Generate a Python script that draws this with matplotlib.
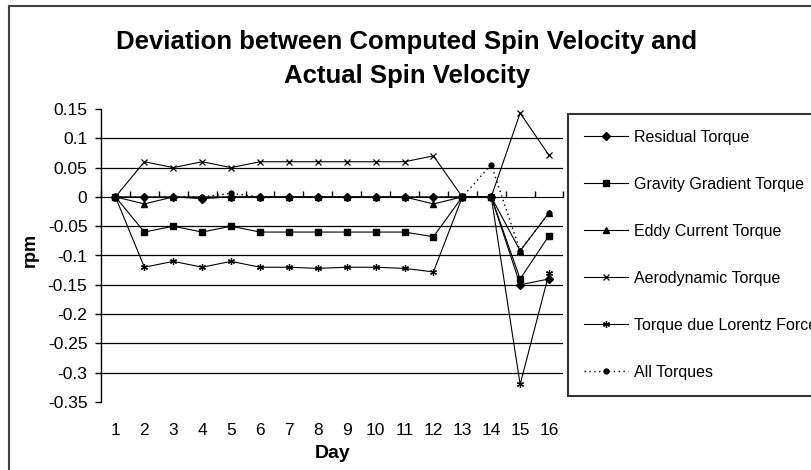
"""Deviation between computed and actual spin velocity, Excel-style line chart."""

import matplotlib

matplotlib.use("Agg")
import matplotlib.pyplot as plt
import numpy as np
from matplotlib.patches import Rectangle

days = list(range(1, 17))

residual = [0, 0, 0, -0.003, 0.0, 0, 0, 0, 0, 0, 0, 0, 0, 0, -0.15, -0.14]
gravity = [0, -0.06, -0.05, -0.06, -0.05, -0.06, -0.06, -0.06, -0.06, -0.06, -0.06,
           -0.068, 0, 0, -0.14, -0.066]
eddy = [0, -0.012, 0, 0, 0, 0, 0, 0, 0, 0, 0, -0.012, 0, 0, -0.092, -0.027]
aero = [0, 0.06, 0.05, 0.06, 0.05, 0.06, 0.06, 0.06, 0.06, 0.06, 0.06, 0.07,
        0, 0, 0.143, 0.071]
lorentz = [0, -0.12, -0.11, -0.12, -0.11, -0.12, -0.12, -0.122, -0.12, -0.12, -0.122,
           -0.128, 0, 0, -0.32, -0.13]
all_torques = [0, 0, 0, 0, 0.006, 0, 0, 0, 0, 0, 0, 0, 0, 0.055, -0.092, -0.027]

y_ticks = [0.15, 0.1, 0.05, 0, -0.05, -0.1, -0.15, -0.2, -0.25, -0.3, -0.35]
y_labels = ["0.15", "0.1", "0.05", "0", "-0.05", "-0.1", "-0.15", "-0.2", "-0.25",
            "-0.3", "-0.35"]

plt.rcParams["font.family"] = ["Liberation Sans", "DejaVu Sans"]

W, H = 812, 470
fig = plt.figure(figsize=(W / 100, H / 100), dpi=100)
ax = fig.add_axes([101 / W, 1 - 402 / H, 462.5 / W, 293 / H])

ymin, ymax = -0.35, 0.15
ax.set_xlim(0.5, 16.5)
ax.set_ylim(ymin, ymax)

# gridlines (none at the top and bottom of the range)
for level in y_ticks[1:-1]:
    if level != 0:
        ax.axhline(level, color="black", lw=0.9, zorder=1)

style = dict(color="black", lw=0.8, zorder=3)
ax.plot(days, residual, marker="D", ms=4, label="Residual Torque", **style)
ax.plot(days, gravity, marker="s", ms=4, label="Gravity Gradient Torque", **style)
ax.plot(days, eddy, marker="^", ms=5, label="Eddy Current Torque", **style)
ax.plot(days, aero, marker="x", ms=4, mew=0.9, label="Aerodynamic Torque", **style)
ax.plot(days, lorentz, marker=(6, 2, 0), ms=5, mew=0.9,
        label="Torque due Lorentz Force", **style)
ax.plot(days, all_torques, marker="o", ms=3.5, ls=(0, (1, 2.5)), color="black",
        lw=1.0, zorder=3, label="All Torques")

for side in ["top", "right", "bottom"]:
    ax.spines[side].set_visible(False)
ax.spines["left"].set_linewidth(1.0)

ax.set_yticks(y_ticks)
ax.set_yticklabels(y_labels)
ax.tick_params(axis="y", direction="out", length=4.3, width=1.0, pad=5.5,
               labelsize=12.5)
ax.set_xticks(days)
ax.set_xticklabels([str(d) for d in days])
ax.tick_params(axis="x", length=0, pad=15, labelsize=12.5)

# category axis crossing at zero, ticks between categories
zero_frac = (0 - ymin) / (ymax - ymin)
zero_axis = ax.secondary_xaxis(zero_frac)
zero_axis.set_xticks(np.arange(0.5, 17, 1.0))
zero_axis.set_xticklabels([])
zero_axis.tick_params(direction="out", length=4, width=1.0)
zero_axis.spines["bottom"].set_linewidth(1.0)

ax.set_xlabel("Day", fontsize=14, fontweight="bold", labelpad=5)
fig.text(30 / W, 1 - 250 / H, "rpm", rotation=90, fontsize=13, fontweight="bold",
         ha="center", va="center")

fig.text(407 / W, 1 - 59 / H,
         "Deviation between Computed Spin Velocity and\nActual Spin Velocity",
         ha="center", va="center", fontsize=18.5, fontweight="bold", linespacing=1.48)

fig.legend(loc="upper left", bbox_to_anchor=(568 / W, 1 - 114 / H),
           bbox_transform=fig.transFigure, fontsize=11.5, frameon=True,
           fancybox=False, edgecolor="black", borderaxespad=0, borderpad=1.0,
           handlelength=2.75, handletextpad=0.4, labelspacing=2.0)
leg = fig.legends[0]
leg.get_frame().set_linewidth(1.5)

fig.patches.append(Rectangle((9 / W, -0.1), 1.2, 1.1 - 6 / H, transform=fig.transFigure,
                             fill=False, edgecolor="#404040", lw=1.5))

fig.savefig("out.png", dpi=100)
